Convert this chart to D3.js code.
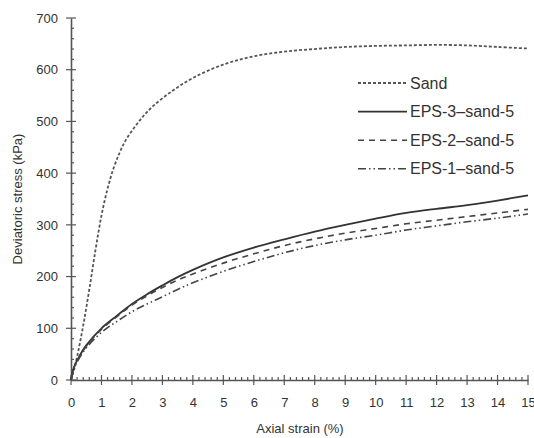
<!DOCTYPE html>
<html>
<head>
<meta charset="utf-8">
<script src="https://cdn.jsdelivr.net/npm/d3@7"></script>
<style>
  body { margin: 0; background: #fff; }
  text { font-family: "Liberation Sans", Arial, sans-serif; fill: #333; }
</style>
</head>
<body>
<div id="chart"></div>
<script>
// Axial strain (%) and deviatoric stress (kPa)
const sandStrain = [0, 0.1, 0.2, 0.4, 0.6, 0.8, 1.0, 1.2, 1.4, 1.6, 1.8, 2.1, 2.4, 2.7, 3.3, 4, 5, 6, 7, 8, 9, 10, 11, 12, 13, 14, 15];
const sandStress = [0, 20, 45, 105, 175, 250, 318, 370, 410, 440, 464, 490, 512, 530, 558, 584, 610, 626, 635, 640, 644, 646, 647, 648, 647, 644, 641];

const epsStrain = [0, 0.1, 0.2, 0.5, 1, 1.5, 2, 2.5, 3, 3.5, 4, 5, 6, 7, 8, 9, 10, 11, 12, 13, 14, 15];
const eps3Stress = [0, 25, 38, 67, 100, 124, 147, 166, 183, 199, 213, 237, 256, 272, 287, 300, 312, 323, 331, 338, 347, 357];
const eps2Stress = [0, 24, 36, 65, 98, 122, 145, 163, 179, 193, 205, 226, 244, 260, 273, 284, 293, 302, 309, 316, 323, 330];
const eps1Stress = [0, 22, 35, 62, 92, 113, 132, 147, 161, 175, 188, 210, 229, 246, 260, 271, 280, 290, 298, 306, 313, 321];

const seriesNames = ["Sand", "EPS-3\u2013sand-5", "EPS-2\u2013sand-5", "EPS-1\u2013sand-5"];
const xTicks = d3.range(0, 16, 1);
const yTicks = d3.range(0, 701, 100);

const width = 534, height = 438;
const margin = { top: 18, right: 6, bottom: 58, left: 71 };
const h = height - margin.top - margin.bottom;

const svg = d3.select("#chart").append("svg")
    .attr("width", width)
    .attr("height", height);

const g = svg.append("g")
    .attr("transform", `translate(${margin.left},${margin.top})`);

const x = d3.scaleLinear().domain([0, 15]).range([0, 457]);
const y = d3.scaleLinear().domain([0, 700]).range([h, 0]);

const axisColor = "#555";

// X axis: labels from d3 axis, ticks drawn by hand (major cross, minor inside)
const xAxis = g.append("g")
    .attr("transform", `translate(0,${h})`)
    .call(d3.axisBottom(x).tickValues(xTicks).tickSize(0).tickPadding(18).tickFormat(d3.format("d")));
xAxis.select(".domain").attr("stroke", axisColor).attr("stroke-width", 1.6);
xAxis.selectAll("text").style("font-size", "13px").attr("fill", "#333")
    .style("font-family", "'Liberation Sans', Arial, sans-serif");

const xMinor = d3.range(0, 15.001, 0.2);
g.append("g").selectAll("line")
    .data(xMinor)
    .enter()
    .append("line")
    .attr("x1", d => x(d))
    .attr("x2", d => x(d))
    .attr("y1", d => Math.abs(d - Math.round(d)) < 1e-6 ? h + 5 : h)
    .attr("y2", d => Math.abs(d - Math.round(d)) < 1e-6 ? h - 5 : h - 3)
    .attr("stroke", axisColor)
    .attr("stroke-width", 1.2);

// Y axis
const yAxis = g.append("g")
    .call(d3.axisLeft(y).tickValues(yTicks).tickSize(0).tickPadding(13));
yAxis.select(".domain").attr("stroke", axisColor).attr("stroke-width", 1.6);
yAxis.selectAll("text").style("font-size", "13px").attr("fill", "#333")
    .style("font-family", "'Liberation Sans', Arial, sans-serif");

const yMinor = d3.range(0, 701, 20);
g.append("g").selectAll("line")
    .data(yMinor)
    .enter()
    .append("line")
    .attr("x1", d => d % 100 === 0 ? -5 : 0)
    .attr("x2", d => d % 100 === 0 ? 5 : 3)
    .attr("y1", d => y(d))
    .attr("y2", d => y(d))
    .attr("stroke", axisColor)
    .attr("stroke-width", 1.2);

// Curves
const line = d3.line()
    .x(d => x(d[0]))
    .y(d => y(d[1]))
    .curve(d3.curveCatmullRom.alpha(0.5));

const styles = [
    { color: "#555", width: 1.8, dash: "3 2" },
    { color: "#333", width: 1.8, dash: null },
    { color: "#444", width: 1.6, dash: "6 5" },
    { color: "#444", width: 1.6, dash: "8 3 1.5 3 1.5 3" }
];

const series = [
    d3.zip(sandStrain, sandStress),
    d3.zip(epsStrain, eps3Stress),
    d3.zip(epsStrain, eps2Stress),
    d3.zip(epsStrain, eps1Stress)
];

g.selectAll(".curve")
    .data(series)
    .enter()
    .append("path")
    .attr("class", "curve")
    .attr("d", line)
    .attr("fill", "none")
    .attr("stroke", (d, i) => styles[i].color)
    .attr("stroke-width", (d, i) => styles[i].width)
    .attr("stroke-dasharray", (d, i) => styles[i].dash);

// Legend
const legend = svg.append("g").attr("transform", "translate(358,83)");
seriesNames.forEach((name, i) => {
    const row = legend.append("g").attr("transform", `translate(0,${i * 28.6})`);
    row.append("line")
        .attr("x1", 0).attr("x2", 49)
        .attr("y1", 0).attr("y2", 0)
        .attr("stroke", styles[i].color)
        .attr("stroke-width", styles[i].width)
        .attr("stroke-dasharray", styles[i].dash);
    row.append("text")
        .attr("x", 52)
        .attr("y", 5.5)
        .style("font-size", "16px")
        .text(name);
});

// Axis labels
svg.append("text")
    .attr("text-anchor", "middle")
    .attr("x", 300)
    .attr("y", 433)
    .style("font-size", "13px")
    .text("Axial strain (%)");

svg.append("text")
    .attr("text-anchor", "middle")
    .attr("transform", "rotate(-90)")
    .attr("x", -199)
    .attr("y", 22)
    .style("font-size", "13px")
    .text("Deviatoric stress (kPa)");
</script>
</body>
</html>
